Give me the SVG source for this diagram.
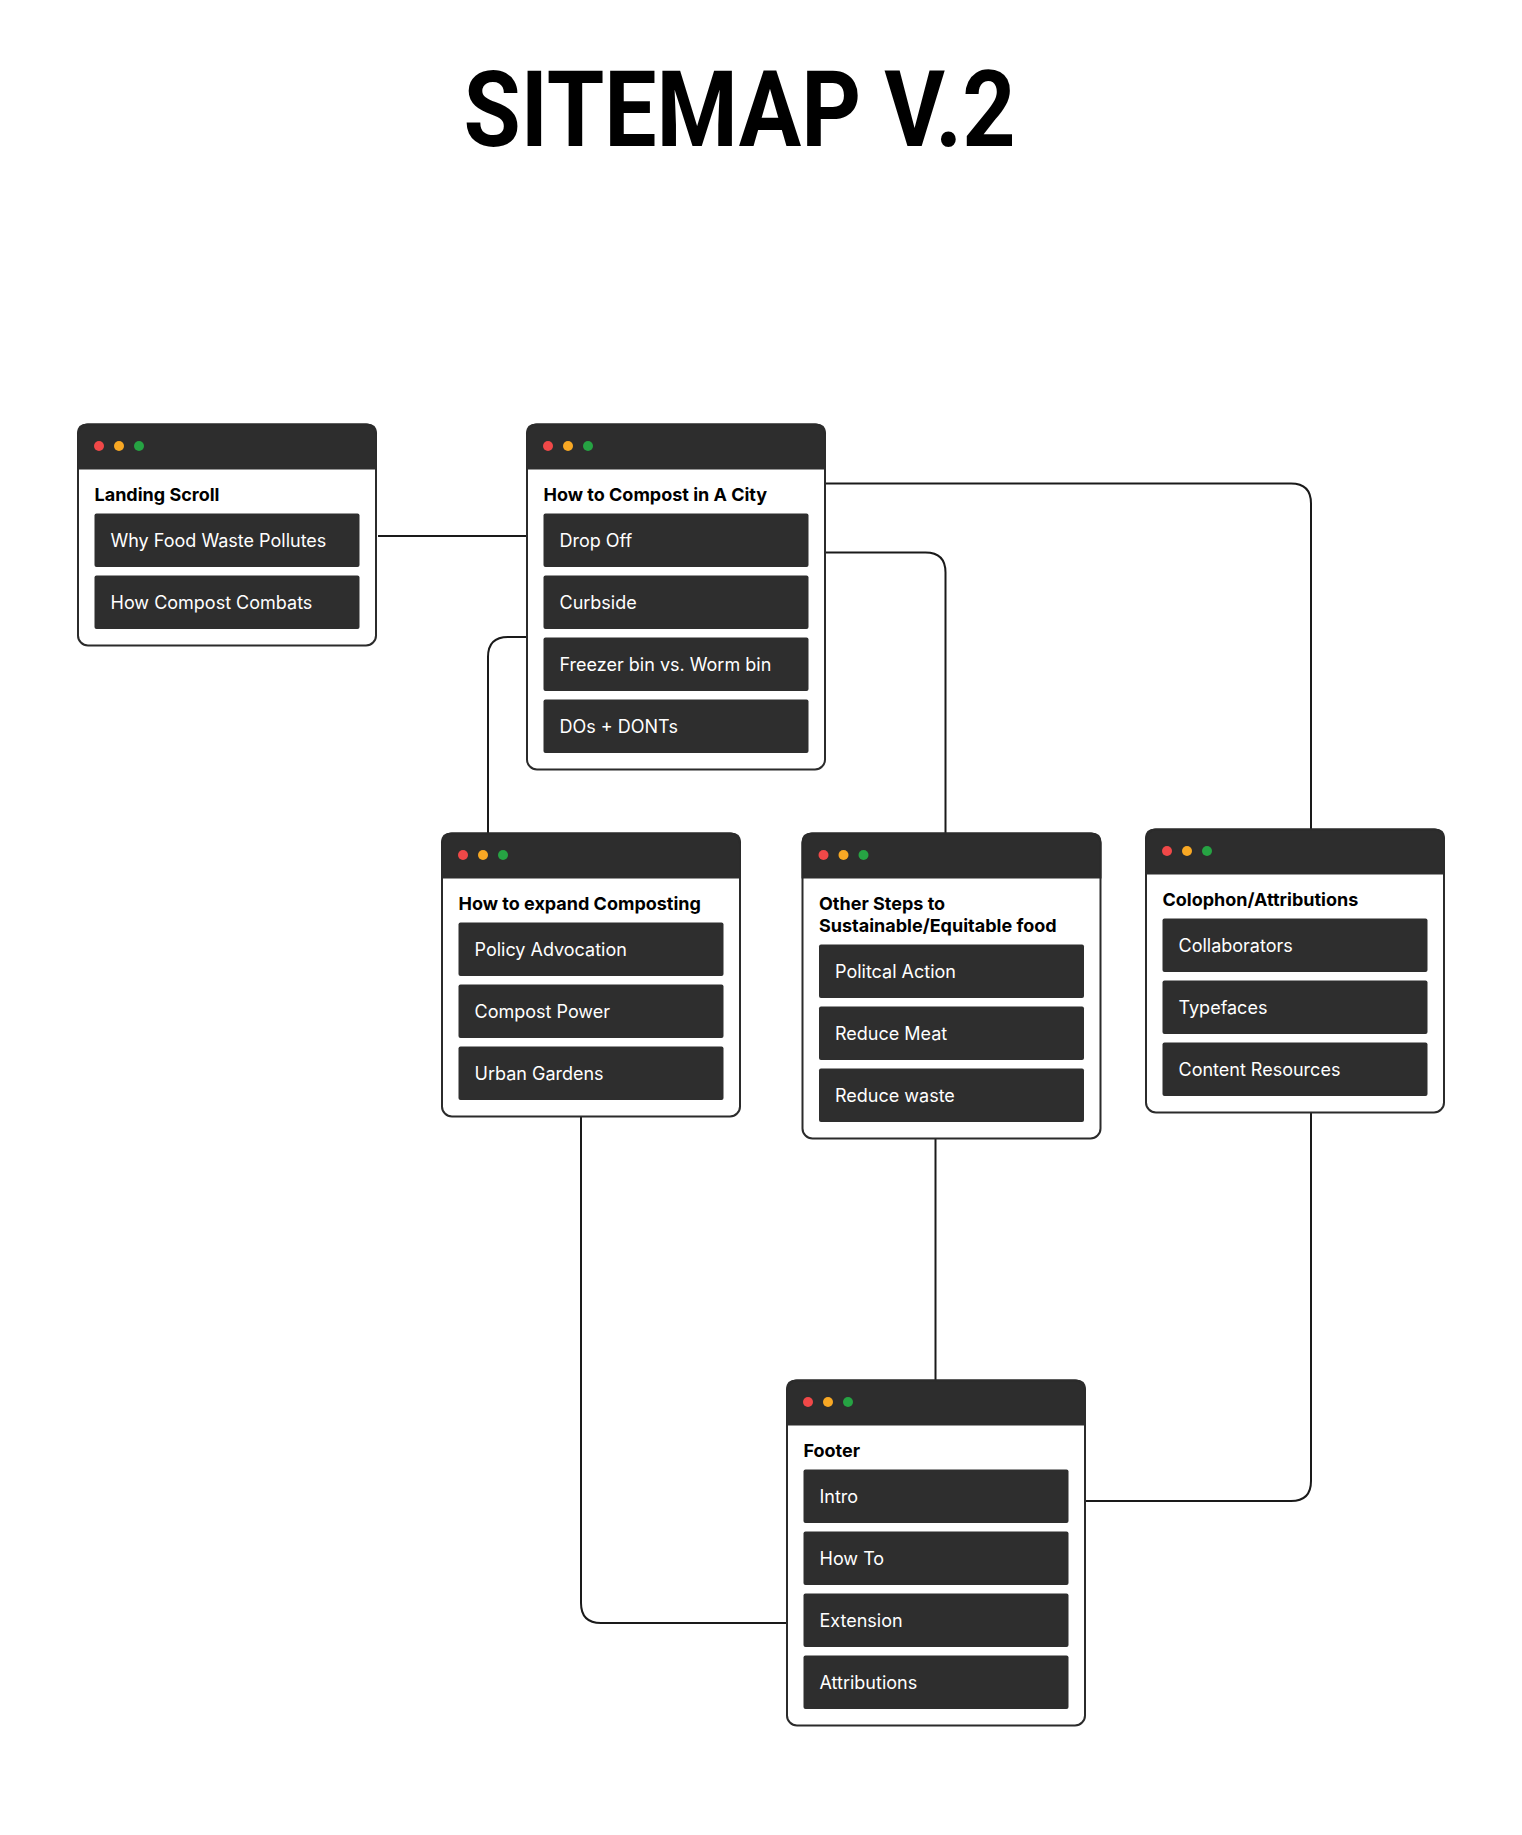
<svg xmlns="http://www.w3.org/2000/svg" width="1522" height="1835" viewBox="0 0 1522 1835">
<style>
.box{fill:none;stroke:#2b2b2b;stroke-width:2}
.hdr{fill:#2d2d2d}
.item{fill:#2e2e2e}
.r{fill:#f04848}.y{fill:#f8a824}.g{fill:#26a343}
.ttl{font-family:Inter,"Noto Sans",sans-serif;font-weight:700;font-size:18px;fill:#000}
.txt{font-family:Inter,"Noto Sans",sans-serif;font-weight:400;font-size:18px;fill:#fff}
.conn{fill:none;stroke:#1a1a1a;stroke-width:2}
</style>
<rect width="1522" height="1835" fill="#fff"/>
<text x="463.5" y="146" font-family="Roboto,'Liberation Sans',sans-serif" font-weight="700" font-size="106" textLength="552" lengthAdjust="spacingAndGlyphs" fill="#000">SITEMAP V.2</text>

<g id="connectors">
<path class="conn" d="M378 536 H526"/>
<path class="conn" d="M526 637 H508 Q488 637 488 657 V833"/>
<path class="conn" d="M826 552.5 H925.5 Q945.5 552.5 945.5 572.5 V833"/>
<path class="conn" d="M826 483.5 H1291 Q1311 483.5 1311 503.5 V829"/>
<path class="conn" d="M581 1117 V1603 Q581 1623 601 1623 H786"/>
<path class="conn" d="M935.5 1139 V1380"/>
<path class="conn" d="M1311 1113 V1481 Q1311 1501 1291 1501 H1086"/>
</g>

<g id="landing-scroll" transform="translate(77,423.5)">
<path class="hdr" d="M0 46 V10 Q0 0 10 0 H290 Q300 0 300 10 V46 Z"/>
<rect class="box" x="1" y="1" width="298" height="221" rx="10"/>
<circle class="r" cx="22" cy="22.5" r="5"/><circle class="y" cx="42" cy="22.5" r="5"/><circle class="g" cx="62" cy="22.5" r="5"/>
<text class="ttl" x="17.5" y="77.5">Landing Scroll</text>
<rect class="item" x="17.5" y="90" width="265" height="53.5" rx="2"/>
<text class="txt" x="33.5" y="123.5">Why Food Waste Pollutes</text>
<rect class="item" x="17.5" y="152" width="265" height="53.5" rx="2"/>
<text class="txt" x="33.5" y="185.5">How Compost Combats</text>
</g>

<g id="how-to-compost" transform="translate(526,423.5)">
<path class="hdr" d="M0 46 V10 Q0 0 10 0 H290 Q300 0 300 10 V46 Z"/>
<rect class="box" x="1" y="1" width="298" height="345" rx="10"/>
<circle class="r" cx="22" cy="22.5" r="5"/><circle class="y" cx="42" cy="22.5" r="5"/><circle class="g" cx="62" cy="22.5" r="5"/>
<text class="ttl" x="17.5" y="77.5">How to Compost in A City</text>
<rect class="item" x="17.5" y="90" width="265" height="53.5" rx="2"/>
<text class="txt" x="33.5" y="123.5">Drop Off</text>
<rect class="item" x="17.5" y="152" width="265" height="53.5" rx="2"/>
<text class="txt" x="33.5" y="185.5">Curbside</text>
<rect class="item" x="17.5" y="214" width="265" height="53.5" rx="2"/>
<text class="txt" x="33.5" y="247.5">Freezer bin vs. Worm bin</text>
<rect class="item" x="17.5" y="276" width="265" height="53.5" rx="2"/>
<text class="txt" x="33.5" y="309.5">DOs + DONTs</text>
</g>

<g id="expand-composting" transform="translate(441,832.5)">
<path class="hdr" d="M0 46 V10 Q0 0 10 0 H290 Q300 0 300 10 V46 Z"/>
<rect class="box" x="1" y="1" width="298" height="283" rx="10"/>
<circle class="r" cx="22" cy="22.5" r="5"/><circle class="y" cx="42" cy="22.5" r="5"/><circle class="g" cx="62" cy="22.5" r="5"/>
<text class="ttl" x="17.5" y="77.5">How to expand Composting</text>
<rect class="item" x="17.5" y="90" width="265" height="53.5" rx="2"/>
<text class="txt" x="33.5" y="123.5">Policy Advocation</text>
<rect class="item" x="17.5" y="152" width="265" height="53.5" rx="2"/>
<text class="txt" x="33.5" y="185.5">Compost Power</text>
<rect class="item" x="17.5" y="214" width="265" height="53.5" rx="2"/>
<text class="txt" x="33.5" y="247.5">Urban Gardens</text>
</g>

<g id="other-steps" transform="translate(801.5,832.5)">
<path class="hdr" d="M0 46 V10 Q0 0 10 0 H290 Q300 0 300 10 V46 Z"/>
<rect class="box" x="1" y="1" width="298" height="305" rx="10"/>
<circle class="r" cx="22" cy="22.5" r="5"/><circle class="y" cx="42" cy="22.5" r="5"/><circle class="g" cx="62" cy="22.5" r="5"/>
<text class="ttl" x="17.5" y="77.5">Other Steps to</text>
<text class="ttl" x="17.5" y="99.3">Sustainable/Equitable food</text>
<rect class="item" x="17.5" y="112" width="265" height="53.5" rx="2"/>
<text class="txt" x="33.5" y="145.5">Politcal Action</text>
<rect class="item" x="17.5" y="174" width="265" height="53.5" rx="2"/>
<text class="txt" x="33.5" y="207.5">Reduce Meat</text>
<rect class="item" x="17.5" y="236" width="265" height="53.5" rx="2"/>
<text class="txt" x="33.5" y="269.5">Reduce waste</text>
</g>

<g id="colophon" transform="translate(1145,828.5)">
<path class="hdr" d="M0 46 V10 Q0 0 10 0 H290 Q300 0 300 10 V46 Z"/>
<rect class="box" x="1" y="1" width="298" height="283" rx="10"/>
<circle class="r" cx="22" cy="22.5" r="5"/><circle class="y" cx="42" cy="22.5" r="5"/><circle class="g" cx="62" cy="22.5" r="5"/>
<text class="ttl" x="17.5" y="77.5">Colophon/Attributions</text>
<rect class="item" x="17.5" y="90" width="265" height="53.5" rx="2"/>
<text class="txt" x="33.5" y="123.5">Collaborators</text>
<rect class="item" x="17.5" y="152" width="265" height="53.5" rx="2"/>
<text class="txt" x="33.5" y="185.5">Typefaces</text>
<rect class="item" x="17.5" y="214" width="265" height="53.5" rx="2"/>
<text class="txt" x="33.5" y="247.5">Content Resources</text>
</g>

<g id="footer" transform="translate(786,1379.5)">
<path class="hdr" d="M0 46 V10 Q0 0 10 0 H290 Q300 0 300 10 V46 Z"/>
<rect class="box" x="1" y="1" width="298" height="345" rx="10"/>
<circle class="r" cx="22" cy="22.5" r="5"/><circle class="y" cx="42" cy="22.5" r="5"/><circle class="g" cx="62" cy="22.5" r="5"/>
<text class="ttl" x="17.5" y="77.5">Footer</text>
<rect class="item" x="17.5" y="90" width="265" height="53.5" rx="2"/>
<text class="txt" x="33.5" y="123.5">Intro</text>
<rect class="item" x="17.5" y="152" width="265" height="53.5" rx="2"/>
<text class="txt" x="33.5" y="185.5">How To</text>
<rect class="item" x="17.5" y="214" width="265" height="53.5" rx="2"/>
<text class="txt" x="33.5" y="247.5">Extension</text>
<rect class="item" x="17.5" y="276" width="265" height="53.5" rx="2"/>
<text class="txt" x="33.5" y="309.5">Attributions</text>
</g>
</svg>
